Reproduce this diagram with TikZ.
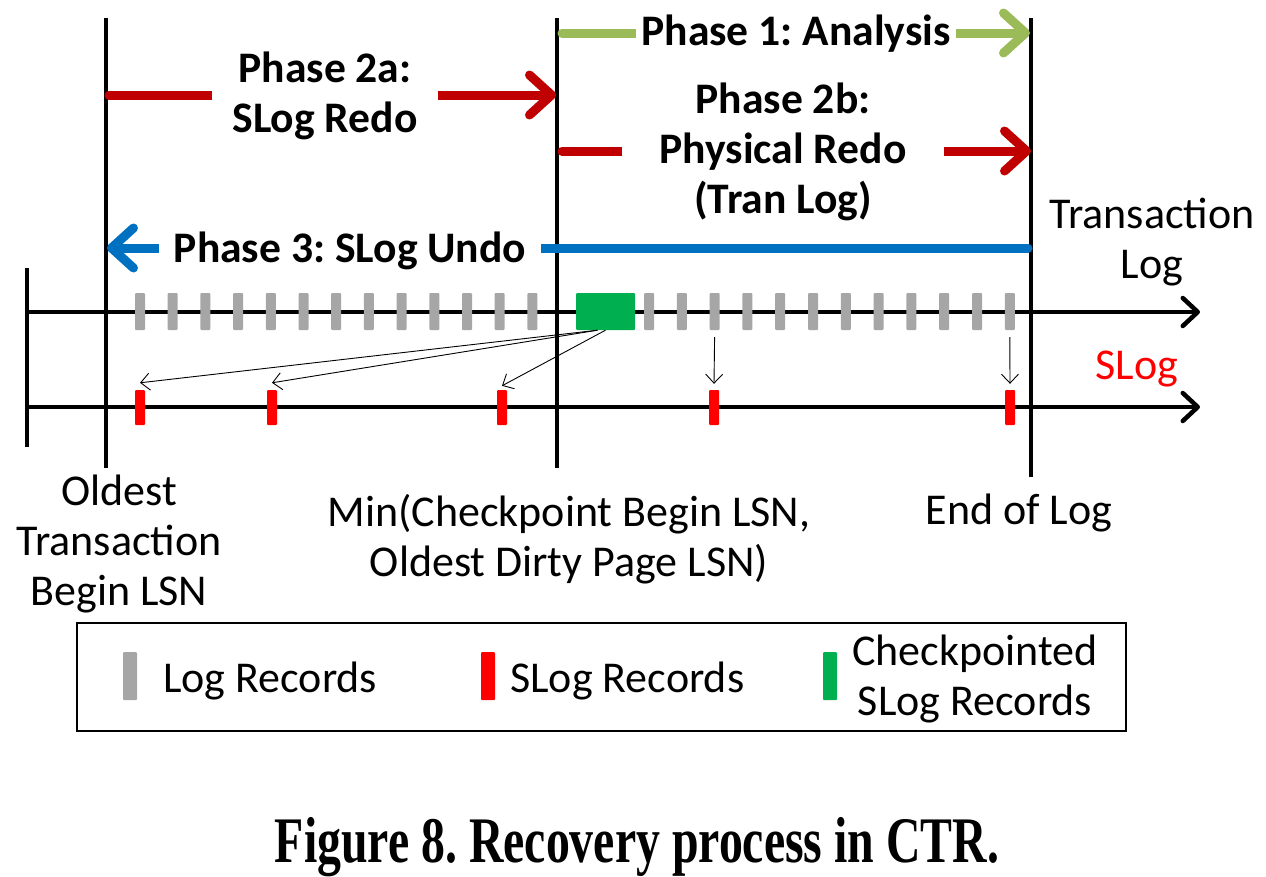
\documentclass[tikz,border=0pt]{standalone}
\usepackage{graphicx}
\usepackage{fontspec}
\setmainfont{Carlito}
\newfontfamily\capfont{Liberation Serif}
\usetikzlibrary{arrows.meta,calc}
\definecolor{cgray}{HTML}{A6A6A6}
\definecolor{cred}{HTML}{FF0000}
\definecolor{cgreen}{HTML}{00B050}
\definecolor{pgreen}{HTML}{9BBB59}
\definecolor{pred}{HTML}{C00000}
\definecolor{pblue}{HTML}{0070C0}
\frenchspacing
\begin{document}
\begin{tikzpicture}[x=1pt,y=-1pt,
  every node/.style={font=\fontsize{44}{50}\selectfont, inner sep=0pt},
  vline/.style={line width=4pt},
  axis/.style={line width=4.5pt, -{Straight Barb[length=15pt,width=28pt,round]}},
  phase/.style={line width=9pt, line cap=round, -{Straight Barb[length=22pt,width=40pt,round]}},
  ptext/.style={fill=white, align=center, font=\fontsize{43.6}{50}\selectfont\bfseries, inner ysep=2pt},
  gtick/.style={fill=cgray, minimum width=10pt, minimum height=37pt, rounded corners=1pt},
  rtick/.style={fill=cred, minimum width=10pt, minimum height=35pt, rounded corners=1pt},
  lmark/.style={minimum width=14pt, minimum height=48pt, rounded corners=1pt},
  thinarr/.style={line width=0.9pt, -{Straight Barb[length=9pt,width=17pt]}}
]
\useasboundingbox (0,0) rectangle (1266,876);
\fill[white] (0,0) rectangle (1266,876);

% vertical markers
\coordinate (vaT) at (106,18);  \coordinate (vaB) at (106,468);
\coordinate (vbT) at (557,18);  \coordinate (vbB) at (557,468);
\coordinate (vcT) at (1031,18); \coordinate (vcB) at (1031,477);
\coordinate (v0T) at (27,268);  \coordinate (v0B) at (27,447);
\draw[vline] (vaT) -- (vaB);
\draw[vline] (vbT) -- (vbB);
\draw[vline] (vcT) -- (vcB);
\draw[vline] (v0T) -- (v0B);

% axes
\coordinate (ax1s) at (27,312); \coordinate (ax1e) at (1200,312);
\coordinate (ax2s) at (27,407); \coordinate (ax2e) at (1200,407);
\draw[axis] (ax1s) -- (ax1e);
\draw[axis] (ax2s) -- (ax2e);

% log records
\foreach \i in {0,...,12} \node[gtick] (gl\i) at ({140+32.7*\i},311.5) {};
\foreach \i in {0,...,11} \node[gtick] (gr\i) at ({649+32.8*\i},311.5) {};
\node[fill=cgreen, minimum width=59pt, minimum height=37pt, rounded corners=1pt] (cp) at (605.5,311.5) {};

% SLog records
\node[rtick] (s1) at (140,407.5) {};
\node[rtick] (s2) at (272,407.5) {};
\node[rtick] (s3) at (502,407.5) {};
\node[rtick] (s4) at (714,407.5) {};
\node[rtick] (s5) at (1010,407.5) {};

% thin arrows
\draw[thinarr] ([xshift=-8pt]cp.south) -- ([yshift=7pt]s1.north);
\draw[thinarr] ([xshift=-8pt]cp.south) -- ([yshift=7pt]s2.north);
\draw[thinarr] (cp.south) -- ([yshift=4pt]s3.north);
\draw[thinarr] ([yshift=-7pt]gr2.south) -- ([yshift=6pt]s4.north);
\draw[thinarr] ([yshift=-7pt]gr11.south) -- ([yshift=6pt]s5.north);

% phase arrows
\coordinate (p1s) at (562,33);  \coordinate (p1e) at (1030,33);
\coordinate (p2as) at (109,95); \coordinate (p2ae) at (556,95);
\coordinate (p2bs) at (562,151); \coordinate (p2be) at (1031,151);
\coordinate (p3s) at (1028,248); \coordinate (p3e) at (107,248);
\draw[phase, pgreen] (p1s) -- (p1e);
\draw[phase, pred] (p2as) -- (p2ae);
\draw[phase, pred] (p2bs) -- (p2be);
\draw[phase, pblue] (p3s) -- (p3e);

\node[ptext, inner xsep=5pt, anchor=base] (t1) at (796,45) {Phase 1: Analysis};
\node[ptext, inner xsep=20pt, anchor=base] (t2a) at (325,132) {Phase 2a:\\SLog Redo};
\node[ptext, inner xsep=37pt, anchor=base] (t2b) at (783,213) {Phase 2b:\\Physical Redo\\(Tran Log)};
\node[ptext, inner xsep=15pt, anchor=base] (t3) at (350,262) {Phase 3: SLog Undo};

% side labels
\node[align=center, anchor=base] (tl) at (1152,278) {Transaction\\Log};
\node[text=cred, anchor=base] (sl) at (1137,379) {SLog};

% bottom labels
\node[align=center, anchor=base] (ob) at (119,605) {Oldest\\Transaction\\Begin LSN};
\node[align=center, anchor=base] (mn) at (569,576) {Min(Checkpoint Begin LSN,\\Oldest Dirty Page LSN)};
\node[anchor=base] (eol) at (1019,524) {End of Log};

% legend
\node[draw, line width=2pt, minimum width=1049pt, minimum height=108pt] (leg) at (601.5,677) {};
\node[lmark, fill=cgray] (lm1) at (130,676) {};
\node[anchor=base west] (lt1) at (163,692) {Log Records};
\node[lmark, fill=cred] (lm2) at (488,676) {};
\node[anchor=base west] (lt2) at (510,692) {SLog Records};
\node[lmark, fill=cgreen] (lm3) at (830,676) {};
\node[align=center, anchor=base] (lt3) at (975,715) {Checkpointed\\SLog Records};

% caption
\node[anchor=base] (cap) at (637,862) {\scalebox{0.735}[1]{\capfont\bfseries\fontsize{65}{65}\selectfont Figure 8. Recovery process in CTR.}};
\end{tikzpicture}
\end{document}
